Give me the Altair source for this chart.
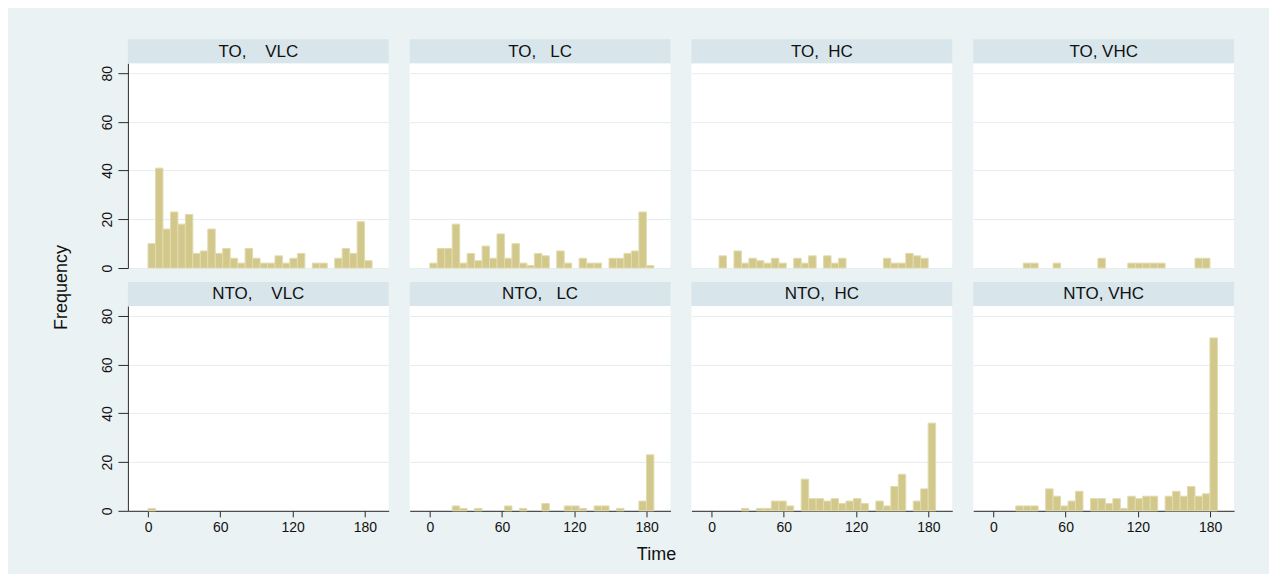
import altair as alt
import pandas as pd

# ---------------- data ----------------
BIN_EDGES = [0.0, 6.2, 12.4, 18.6, 24.8, 31.0, 37.2, 43.4, 49.6, 55.8,
             62.0, 68.2, 74.4, 80.6, 86.8, 93.0, 99.2, 105.4, 111.6, 117.8,
             124.0, 130.2, 136.4, 142.6, 148.8, 155.0, 161.2, 167.4, 173.6,
             179.8, 186.0]

PANEL_LABELS = [
    "TO,\u00a0\u00a0\u00a0\u00a0VLC", "TO,\u00a0\u00a0\u00a0LC",
    "TO,\u00a0\u00a0HC", "TO,\u00a0VHC",
    "NTO,\u00a0\u00a0\u00a0\u00a0VLC", "NTO,\u00a0\u00a0\u00a0LC",
    "NTO,\u00a0\u00a0HC", "NTO,\u00a0VHC",
]

TO_VLC = [10, 41, 16, 23, 18, 22, 6, 7, 16, 6, 8, 4, 2, 8, 4, 2, 2, 5, 2, 4,
          6, 0, 2, 2, 0, 4, 8, 6, 19, 3]
TO_LC = [2, 8, 8, 18, 2, 6, 3, 9, 4, 14, 4, 10, 2, 1, 6, 5, 0, 7, 2, 0,
         4, 2, 2, 0, 4, 4, 6, 7, 23, 1]
TO_HC = [0, 5, 0, 7, 2, 4, 3, 2, 4, 2, 0, 4, 2, 5, 0, 5, 2, 4, 0, 0,
         0, 0, 0, 4, 2, 2, 6, 5, 4, 0]
TO_VHC = [0, 0, 0, 0, 2, 2, 0, 0, 2, 0, 0, 0, 0, 0, 4, 0, 0, 0, 2, 2,
          2, 2, 2, 0, 0, 0, 0, 4, 4, 0]
NTO_VLC = [1, 0, 0, 0, 0, 0, 0, 0, 0, 0, 0, 0, 0, 0, 0, 0, 0, 0, 0, 0,
           0, 0, 0, 0, 0, 0, 0, 0, 0, 0]
NTO_LC = [0, 0, 0, 2, 1, 0, 1, 0, 0, 0, 2, 0, 1, 0, 0, 3, 0, 0, 2, 2,
          1, 0, 2, 2, 0, 1, 0, 0, 4, 23]
NTO_HC = [0, 0, 0, 0, 1, 0, 1, 1, 4, 4, 2, 0, 13, 5, 5, 4, 5, 3, 4, 5,
          3, 0, 4, 2, 10, 15, 0, 4, 9, 36]
NTO_VHC = [0, 0, 0, 2, 2, 2, 0, 9, 6, 2, 4, 8, 0, 5, 5, 3, 5, 1, 6, 5,
           6, 6, 0, 6, 8, 6, 10, 6, 7, 71]

SERIES = [TO_VLC, TO_LC, TO_HC, TO_VHC, NTO_VLC, NTO_LC, NTO_HC, NTO_VHC]
X_TICKS = [0, 60, 120, 180]
Y_TICKS = [0, 20, 40, 60, 80]

# ---------------- style ----------------
W, H = 261, 205
FONT = "Liberation Sans"
BG = "#EAF2F3"
STRIP = "#D8E5EB"
GRID = "#E4EDF0"
AXIS = "#2a2a2a"
TEXT = "#111111"
BAR_FILL = "#D2C88C"
BAR_STROKE = "#E1DBAE"

X_SCALE = alt.Scale(domain=[-16.7, 199.8], nice=False, zero=False)
Y_SCALE = alt.Scale(domain=[0, 84.1], nice=False, zero=True)


def make_panel(idx):
    row, col = divmod(idx, 4)
    counts = SERIES[idx]
    df = pd.DataFrame({"lo": BIN_EDGES[:-1], "hi": BIN_EDGES[1:], "count": counts})
    df = df[df["count"] > 0]

    # x axis
    if row == 0:
        x_enc = alt.X("lo:Q", scale=X_SCALE, axis=None)
    else:
        x_kw = dict(values=X_TICKS, grid=False, domain=True, domainColor=AXIS,
                    ticks=True, tickColor=AXIS, tickSize=6, labelFontSize=14,
                    labelColor=TEXT, labelPadding=4, labelFlush=False)
        if col == 1:
            x_kw.update(title="Time", titleX=246.5, titleY=44, titleAlign="center",
                        titleBaseline="middle", titleFontSize=18,
                        titleFontWeight="normal", titleColor=TEXT)
        else:
            x_kw.update(title=None)
        x_enc = alt.X("lo:Q", scale=X_SCALE, axis=alt.Axis(**x_kw))

    # y axis
    if col == 0:
        y_kw = dict(values=Y_TICKS, grid=True, gridColor=GRID, gridWidth=1,
                    domain=True, domainColor=AXIS, ticks=True, tickColor=AXIS,
                    tickSize=10, labelAngle=270, labelAlign="center",
                    labelBaseline="alphabetic", labelPadding=6, labelFontSize=14,
                    labelColor=TEXT, labelOverlap=False)
        if row == 0:
            y_kw.update(title="Frequency", titleX=-66.5, titleY=224, titleAngle=270,
                        titleAlign="center", titleBaseline="middle",
                        titleFontSize=18, titleFontWeight="normal", titleColor=TEXT)
        else:
            y_kw.update(title=None)
        y_axis = alt.Axis(**y_kw)
    else:
        y_axis = alt.Axis(values=Y_TICKS, grid=True, gridColor=GRID, gridWidth=1,
                          domain=False, ticks=False, labels=False, title=None)

    bars = alt.Chart(df).mark_rect(
        fill=BAR_FILL, stroke=BAR_STROKE, strokeWidth=1
    ).encode(
        x=x_enc,
        x2="hi:Q",
        y=alt.Y("count:Q", scale=Y_SCALE, axis=y_axis),
        y2=alt.datum(0),
    )

    lab = pd.DataFrame({"label": [PANEL_LABELS[idx]]})
    strip = alt.Chart(lab).mark_rect(fill=STRIP, strokeWidth=0).encode(
        x=alt.value(0), x2=alt.value(W), y=alt.value(-24), y2=alt.value(0)
    )
    strip_text = alt.Chart(lab).mark_text(
        font=FONT, fontSize=17, color=TEXT, align="center", baseline="middle"
    ).encode(x=alt.value(W / 2), y=alt.value(-11.5), text="label:N")

    return alt.layer(strip, strip_text, bars).properties(width=W, height=H)


panels = [make_panel(i) for i in range(8)]

chart = alt.concat(
    *panels,
    columns=4,
    spacing={"row": 38, "column": 21},
    bounds="flush",
    background=BG,
    padding={"left": 44, "top": 31, "right": 35, "bottom": 10},
).configure(
    font=FONT,
).configure_view(
    fill="white", strokeWidth=0
).configure_axis(
    labelFont=FONT, titleFont=FONT
)

chart.save("out.html", embed_options={"renderer": "svg", "actions": False})
